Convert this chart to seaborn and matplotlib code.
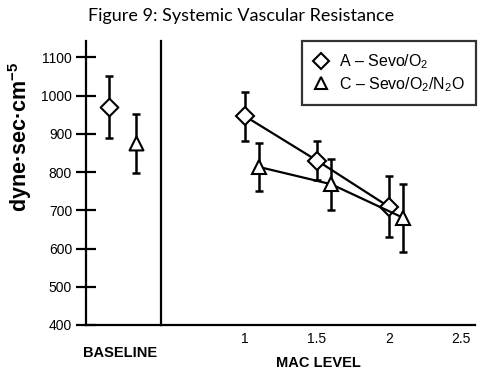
import numpy as np
import pandas as pd
import matplotlib
matplotlib.use("Agg")
import matplotlib.pyplot as plt
import seaborn as sns
from matplotlib.lines import Line2D

# ---- data ----
groups = ["A – Sevo/O$_2$", "C – Sevo/O$_2$/N$_2$O"]
baseline_mean = [970, 875]
baseline_err = [82, 78]
mac_levels = [1.0, 1.5, 2.0]
a_mean = [946, 830, 709]
a_err = [64, 50, 80]
c_mean = [813, 768, 680]
c_err = [63, 66, 90]
mac_ticks = [1, 1.5, 2, 2.5]
mac_tick_labels = ["1", "1.5", "2", "2.5"]
y_ticks = [400, 500, 600, 700, 800, 900, 1000, 1100]

# ---- style ----
sns.set_style("ticks")
plt.rcParams["font.family"] = ["Liberation Sans", "DejaVu Sans"]
plt.rcParams["mathtext.fontset"] = "custom"
plt.rcParams["mathtext.rm"] = "Liberation Sans"
plt.rcParams["mathtext.it"] = "Liberation Sans:italic"
plt.rcParams["mathtext.bf"] = "Liberation Sans:bold"
for k in ["text.color", "axes.labelcolor", "xtick.color", "ytick.color", "axes.edgecolor"]:
    plt.rcParams[k] = "black"

W, H = 480, 372
fig = plt.figure(figsize=(W / 100, H / 100), dpi=100)
fig.patch.set_facecolor("white")

x0, xdiv, xr = 86, 161, 475
ytop, ybot = 41, 325
ax1 = fig.add_axes([x0 / W, (H - ybot) / H, (xdiv - x0) / W, (ybot - ytop) / H])
ax2 = fig.add_axes([xdiv / W, (H - ybot) / H, (xr - xdiv) / W, (ybot - ytop) / H], sharey=ax1)

lw = 1.6
mk = dict(markerfacecolor="white", markeredgecolor="black", markeredgewidth=1.5)
ekw = dict(fmt="none", ecolor="black", elinewidth=1.8, capsize=3, capthick=1.8, zorder=2)

# baseline panel (positions within the panel)
base_pos = [0.3, 0.67]
markers = ["D", "^"]
msizes = [9, 10]
for i in range(2):
    ax1.errorbar([base_pos[i]], [baseline_mean[i]], yerr=[baseline_err[i]], **ekw)
    sns.scatterplot(x=[base_pos[i]], y=[baseline_mean[i]], ax=ax1, marker=markers[i],
                    s=msizes[i] ** 2, color="white", edgecolor="black", linewidth=1.5, zorder=3)
ax1.set_xlim(0, 1)

# MAC panel
dodge = 0.1
xa = np.array(mac_levels)
xc = np.array(mac_levels) + dodge
ax2.errorbar(xa, a_mean, yerr=a_err, **ekw)
ax2.errorbar(xc, c_mean, yerr=c_err, **ekw)
sns.lineplot(x=xa, y=a_mean, ax=ax2, color="black", lw=lw, marker="D", markersize=9, zorder=3, **mk)
sns.lineplot(x=xc, y=c_mean, ax=ax2, color="black", lw=lw, marker="^", markersize=10, zorder=3, **mk)
ax2.set_xlim(1 - (245 - 161) / 144, 1 + (475 - 245) / 144)

ax1.set_ylim(400, 400 + (ybot - ytop) / 0.3824)

# spines
for a in (ax1, ax2):
    a.spines["top"].set_visible(False)
    a.spines["right"].set_visible(False)
    for sp in a.spines.values():
        sp.set_linewidth(1.6)
        sp.set_color("black")

ax1.set_yticks(y_ticks)
ax1.tick_params(axis="y", direction="inout", length=14, width=1.6, labelsize=10, pad=3)
ax1.set_xticks([])
ax2.set_xticks(mac_ticks)
ax2.set_xticklabels(mac_tick_labels)
ax2.tick_params(axis="x", length=0, labelsize=10, pad=5)
ax2.tick_params(axis="y", left=False, labelleft=False)
ax1.set_xlabel("")
ax2.set_xlabel("")
ax1.set_ylabel("")

# legend
handles = [Line2D([], [], linestyle="none", marker="D", markersize=8, **mk),
           Line2D([], [], linestyle="none", marker="^", markersize=9, **mk)]
leg = ax2.legend(handles, groups, loc="upper left",
                 bbox_to_anchor=((302 - 161) / 314, 1.0), frameon=True, fancybox=False,
                 fontsize=11.5, handlelength=1.0, handletextpad=0.6, borderpad=0.7,
                 labelspacing=0.25, borderaxespad=0)
leg.get_frame().set_edgecolor("black")
leg.get_frame().set_linewidth(1.6)

# texts
fig.text(241 / W, 1 - 16 / H, "Figure 9: Systemic Vascular Resistance",
         ha="center", va="center", fontsize=13, family=["Lato", "DejaVu Sans"])
fig.text(20 / W, 1 - 137 / H, "dyne·sec·cm$^{\\mathregular{-5}}$", rotation=90,
         ha="center", va="center", fontsize=15.5, fontweight="bold")
fig.text(120 / W, 1 - 353 / H, "BASELINE", ha="center", va="center",
         fontsize=10.5, fontweight="bold")
fig.text(318 / W, 1 - 363 / H, "MAC LEVEL", ha="center", va="center",
         fontsize=10.5, fontweight="bold")

fig.savefig("out.png", dpi=100, facecolor="white")
